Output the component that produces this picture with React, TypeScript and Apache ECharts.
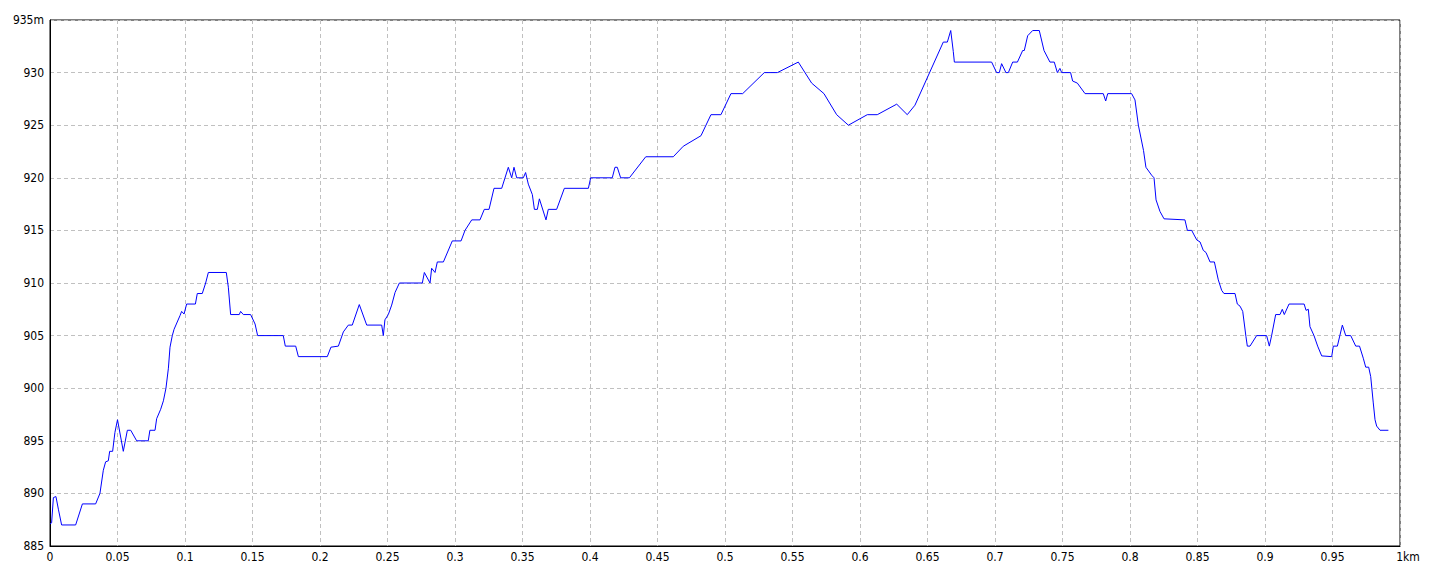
import React, { useEffect, useRef } from "react";
import * as echarts from "echarts";

// distance along the route (km)
const distanceKm: number[] = [
  0, 0.0012, 0.0025, 0.0044, 0.0062, 0.0086, 0.019, 0.024, 0.0338, 0.037,
  0.0395, 0.0412, 0.0432, 0.0442, 0.0464, 0.0481, 0.05, 0.0543, 0.0573, 0.0598,
  0.0642, 0.0728, 0.074, 0.0778, 0.079, 0.082, 0.084, 0.0859, 0.0877, 0.0889,
  0.0906, 0.0919, 0.0963, 0.0975, 0.0993, 0.1012, 0.1077, 0.1091, 0.1128, 0.1153,
  0.1173, 0.1306, 0.1321, 0.1338, 0.1402, 0.1412, 0.1432, 0.1486, 0.1519, 0.1538,
  0.1728, 0.1743, 0.182, 0.184, 0.2054, 0.2081, 0.2136, 0.2173, 0.221, 0.2239,
  0.2291, 0.2346, 0.2457, 0.2469, 0.2481, 0.2506, 0.2531, 0.2556, 0.2588, 0.2758,
  0.2773, 0.2815, 0.2827, 0.2852, 0.2869, 0.2914, 0.298, 0.3045, 0.3074, 0.3124,
  0.3185, 0.3217, 0.3252, 0.3289, 0.3346, 0.3395, 0.342, 0.3437, 0.3457, 0.3506,
  0.3523, 0.3543, 0.3573, 0.3588, 0.361, 0.3625, 0.3674, 0.3691, 0.3753, 0.381,
  0.3988, 0.4005, 0.4165, 0.4185, 0.4202, 0.4227, 0.4292, 0.4413, 0.4617, 0.4691,
  0.4822, 0.4896, 0.497, 0.5044, 0.5131, 0.5291, 0.5388, 0.5543, 0.5642, 0.5733,
  0.5827, 0.5914, 0.6054, 0.6128, 0.6272, 0.635, 0.6407, 0.6617, 0.6647, 0.6672,
  0.6691, 0.6699, 0.6975, 0.7012, 0.7032, 0.7049, 0.7081, 0.7099, 0.7131, 0.7166,
  0.7205, 0.7217, 0.7242, 0.7279, 0.7328, 0.7363, 0.7407, 0.7439, 0.7462, 0.7481,
  0.7494, 0.756, 0.7575, 0.761, 0.7667, 0.7802, 0.782, 0.7835, 0.8012, 0.8037,
  0.8062, 0.81, 0.8118, 0.816, 0.8178, 0.8193, 0.8222, 0.8252, 0.8407, 0.8425,
  0.8457, 0.8494, 0.8519, 0.8543, 0.8563, 0.8593, 0.8625, 0.8654, 0.8679, 0.8696,
  0.8778, 0.8795, 0.8815, 0.8835, 0.8859, 0.8869, 0.8889, 0.8938, 0.9012, 0.9032,
  0.9049, 0.9079, 0.9111, 0.9128, 0.9143, 0.9178, 0.929, 0.9304, 0.9321, 0.9333,
  0.9363, 0.939, 0.942, 0.9494, 0.9506, 0.9536, 0.9573, 0.9598, 0.9635, 0.9672,
  0.97, 0.9728, 0.9746, 0.9768, 0.9783, 0.9802, 0.9815, 0.9827, 0.9852, 0.9914,
];

// elevation (m)
const elevationM: number[] = [
  887.1, 887.2, 889.6, 889.7, 888.5, 887, 887, 889, 889, 890,
  892.2, 893, 893.1, 894, 894, 895.8, 897, 894, 896, 896,
  895, 895, 896, 896, 897.1, 898, 898.8, 900, 901.9, 903.9,
  905, 905.6, 906.9, 907.3, 907.05, 908, 908, 909, 909, 910,
  911, 911, 909.6, 907, 907, 907.3, 907, 907, 906.1, 905,
  905, 904, 904, 903, 903, 903.9, 904, 905.35, 906, 906,
  907.95, 906, 906, 905, 906.5, 907, 907.9, 909.1, 910, 910,
  911, 910, 911.4, 911, 912, 912, 914, 914, 915, 916,
  916, 917, 917, 919, 919, 921, 920, 921, 920, 920,
  920.5, 919.4, 918.4, 917, 917, 918, 916, 917, 917, 919,
  919, 920, 920, 921, 921, 920, 920, 922, 922, 923,
  924, 926, 926, 928, 928, 930, 930, 931, 929, 928,
  926, 925, 926, 926, 927, 926, 926.9, 932.9, 932.9, 934,
  932, 931, 931, 930, 930, 930.85, 930, 930, 931, 931,
  932.1, 932.1, 933.5, 934, 934, 932.1, 931, 931, 930, 930.4,
  930, 930, 929.2, 929, 928, 928, 927.3, 928, 928, 927.4,
  925, 922.6, 921, 920.25, 920, 917.9, 916.8, 916.1, 916, 915,
  915, 914.1, 913.9, 913.1, 912.9, 912, 912, 910.3, 909.3, 909,
  909, 908, 907.8, 907.3, 904.9, 904, 904, 905, 905, 904,
  905, 907, 907, 907.5, 907, 908, 908, 907.4, 907.5, 905.85,
  905, 904, 903.07, 903, 904, 904, 906, 905, 905, 904,
  904, 902.85, 902, 902, 901.1, 898.6, 897, 896.4, 896, 896,
];

const xTickLabels: string[] = [
  "0", "0.05", "0.1", "0.15", "0.2", "0.25", "0.3", "0.35", "0.4", "0.45",
  "0.5", "0.55", "0.6", "0.65", "0.7", "0.75", "0.8", "0.85", "0.9", "0.95", "1km",
];
const yTickLabels: string[] = [
  "885", "890", "895", "900", "905", "910", "915", "920", "925", "930", "935m",
];

const FONT = "'Liberation Sans Narrow', 'DejaVu Sans Condensed', 'Liberation Sans', sans-serif";

export default function App() {
  const ref = useRef<HTMLDivElement>(null);

  useEffect(() => {
    if (!ref.current) return;
    const chart = echarts.init(ref.current, undefined, { renderer: "svg" });
    const data = distanceKm.map((d, i) => [d, elevationM[i]]);
    chart.setOption({
      animation: false,
      backgroundColor: "#ffffff",
      grid: {
        left: 50,
        right: 40,
        top: 20,
        bottom: 30,
        show: true,
        borderColor: "#000000",
        borderWidth: 1,
        backgroundColor: "transparent",
      },
      xAxis: {
        type: "value",
        min: 0,
        max: 1,
        interval: 0.05,
        axisLine: { show: true, lineStyle: { color: "#000000", width: 1 } },
        axisTick: { show: false },
        axisLabel: {
          color: "#000000",
          fontFamily: FONT,
          fontSize: 12,
          margin: 5,
          formatter: (v: number) => {
            const idx = Math.round(v / 0.05);
            const t = xTickLabels[idx] ?? "";
            return idx === xTickLabels.length - 1 ? `{last|${t}}` : t;
          },
          rich: {
            last: { padding: [0, 0, 0, 16], fontFamily: FONT, fontSize: 12, color: "#000000" },
          },
        },
        splitLine: {
          show: true,
          lineStyle: { color: "#c0c0c0", type: [4, 3], width: 1 },
        },
      },
      yAxis: {
        type: "value",
        min: 885,
        max: 935,
        interval: 5,
        axisLine: { show: true, lineStyle: { color: "#000000", width: 1 } },
        axisTick: { show: false },
        axisLabel: {
          color: "#000000",
          fontFamily: FONT,
          fontSize: 12,
          margin: 6,
          formatter: (v: number) => yTickLabels[Math.round((v - 885) / 5)] ?? "",
        },
        splitLine: {
          show: true,
          lineStyle: { color: "#c0c0c0", type: [4, 3], width: 1 },
        },
      },
      series: [
        {
          type: "line",
          data,
          showSymbol: false,
          symbol: "none",
          lineStyle: { color: "#0000ff", width: 1 },
          silent: true,
        },
      ],
    });
    return () => chart.dispose();
  }, []);

  return (
    <div
      ref={ref}
      style={{ position: "absolute", left: 0, top: 0, width: 1440, height: 576, background: "#fff" }}
    />
  );
}
